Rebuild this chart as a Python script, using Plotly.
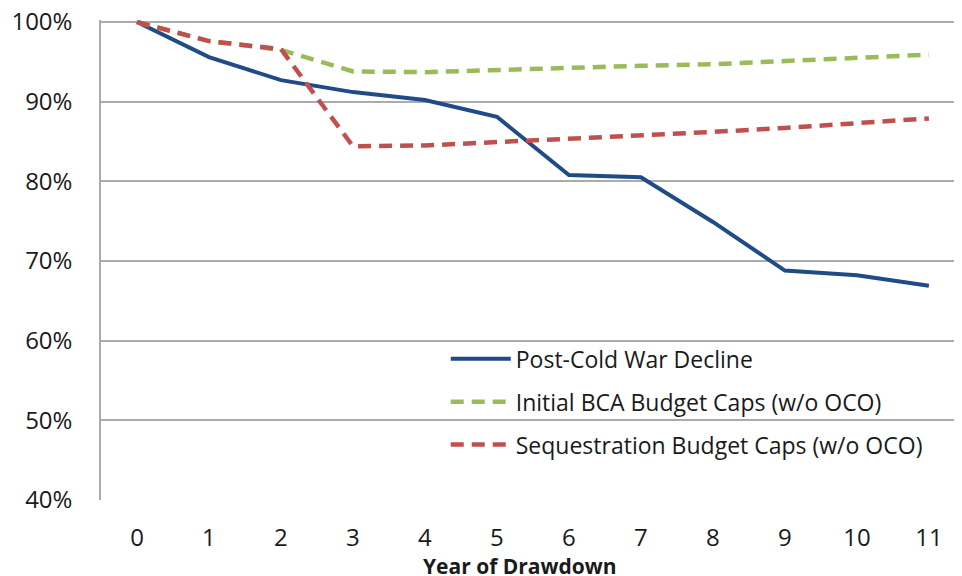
import plotly.graph_objects as go

years = list(range(12))
tick_labels = [str(y) for y in years]
post_cold_war = [100, 95.6, 92.7, 91.2, 90.2, 88.1, 80.8, 80.5, 74.9, 68.8, 68.2, 66.9]
initial_bca = [100, 97.6, 96.5, 93.8, 93.7, 94.0, 94.3, 94.5, 94.7, 95.1, 95.4, 95.9]
sequestration = [100, 97.6, 96.6, 84.4, 84.5, 84.9, 85.3, 85.7, 86.2, 86.7, 87.3, 87.9]
y_ticks = [40, 50, 60, 70, 80, 90, 100]
y_tick_text = [f"{v}%" for v in y_ticks]

names = ["Post-Cold War Decline", "Initial BCA Budget Caps (w/o OCO)", "Sequestration Budget Caps (w/o OCO)"]

fig = go.Figure()
fig.add_trace(go.Scatter(x=years, y=post_cold_war, mode="lines", name=names[0],
                         line=dict(color="#1F4B87", width=4), legendgroup="a"))
fig.add_trace(go.Scatter(x=years, y=initial_bca, mode="lines", name=names[1],
                         line=dict(color="#9BBB59", width=4.5, dash="13px,8px"), legendgroup="b"))
fig.add_trace(go.Scatter(x=years, y=sequestration, mode="lines", name=names[2],
                         line=dict(color="#C0504D", width=4.5, dash="13px,8px"), legendgroup="c"))

# page body has an 8px default margin, so the figure is 8px smaller than the window
fig.update_layout(
    width=954, height=568,
    margin=dict(l=93, r=0, t=12, b=76, autoexpand=False),
    paper_bgcolor="white", plot_bgcolor="white",
    font=dict(family="Open Sans", color="#1a1a1a"),
    showlegend=True,
    legend=dict(x=0.4004, y=0.339, xanchor="left", yanchor="top",
                font=dict(size=23, color="#1a1a1a"), tracegroupgap=10,
                bgcolor="rgba(255,255,255,0)", itemwidth=60),
    xaxis=dict(range=[-0.5, 11.46], tickvals=years, ticktext=tick_labels,
               showgrid=False, zeroline=False, showline=False, automargin=False,
               tickfont=dict(size=24), ticks="", ticklabelstandoff=21,
               ticklabeloverflow="allow"),
    yaxis=dict(range=[40, 100.25], tickvals=y_ticks, ticktext=y_tick_text,
               showgrid=True, gridcolor="#ABABAB", gridwidth=1.5, automargin=False,
               zeroline=False, showline=True, linecolor="#ABABAB", linewidth=1.5,
               tickfont=dict(size=24), ticks="", ticklabelstandoff=22,
               ticklabeloverflow="allow"),
    annotations=[dict(text="<b>Year of Drawdown</b>", xref="paper", yref="paper",
                      x=0.4866, y=-0.137, xanchor="center", yanchor="middle",
                      showarrow=False, font=dict(size=21, color="#1a1a1a"))],
)

fig.write_html("out.html")
